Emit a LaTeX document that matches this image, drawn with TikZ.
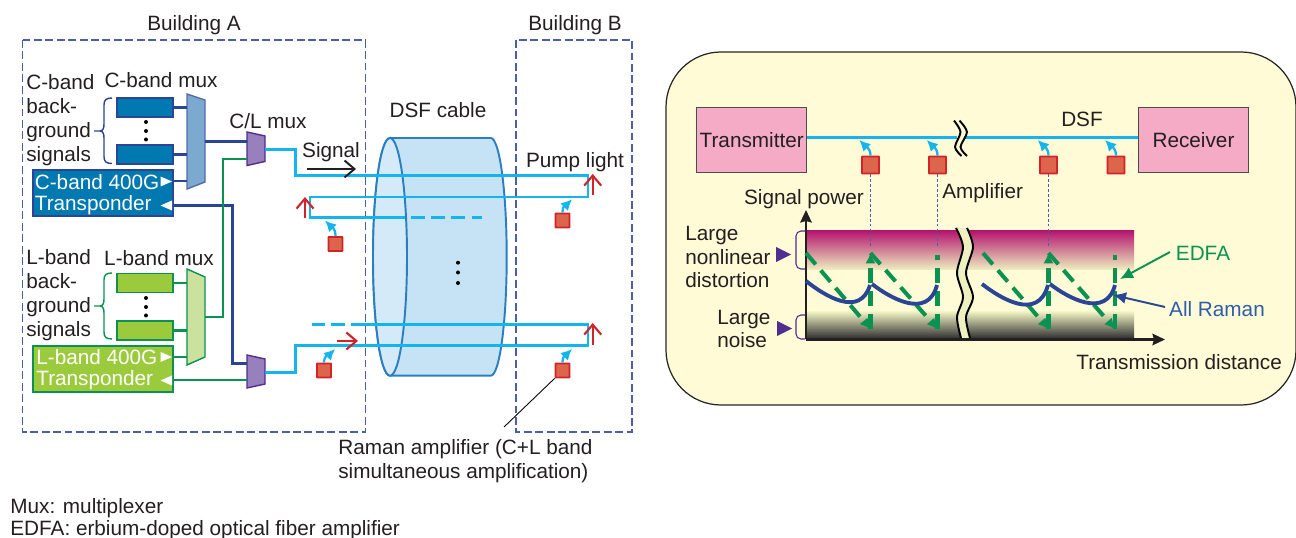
\documentclass[tikz,border=0pt]{standalone}
\usepackage{fontspec}
\setmainfont{Liberation Sans}
\usepackage{xcolor}
\usetikzlibrary{arrows}
\usetikzlibrary{arrows.meta}
\definecolor{inkgray}{HTML}{231F20}
\definecolor{bldblue}{HTML}{4A5FA8}
\definecolor{cband}{HTML}{0078B0}
\definecolor{lband}{HTML}{9BCB3C}
\definecolor{cmuxfill}{HTML}{7BA9CF}
\definecolor{lmuxfill}{HTML}{CBE29F}
\definecolor{clmuxfill}{HTML}{9880BC}
\definecolor{navyline}{HTML}{2B4596}
\definecolor{greenline}{HTML}{0A9350}
\definecolor{fiber}{HTML}{14B4EC}
\definecolor{pumpred}{HTML}{D2232A}
\definecolor{ampfill}{HTML}{DD654C}
\definecolor{panelbg}{HTML}{FFFBD6}
\definecolor{paleband}{HTML}{EEF0C0}
\definecolor{crimson}{HTML}{B5176F}
\definecolor{termpink}{HTML}{F5ABC6}
\definecolor{purplemark}{HTML}{4F2D91}
\definecolor{ramanblue}{HTML}{2F5DAA}
\definecolor{cableedge}{HTML}{2A7FC2}
\definecolor{cablebody}{HTML}{C5E3F5}
\definecolor{cablefront}{HTML}{D5EAF8}

\begin{document}
\begin{tikzpicture}[x=0.2mm,y=-0.2mm]
\tikzset{>={Latex[width=2.4mm,length=2.6mm]}}
\tikzset{every node/.style={font=\fontsize{11.8}{13.6}\selectfont,text=inkgray,inner sep=0pt}}
\tikzstyle{building} =[draw=bldblue,line width=0.6pt,dash pattern=on 4.5pt off 2pt]
\tikzstyle{cbox} =[rectangle,draw=navyline,fill=cband,line width=0.6pt,minimum width=11.2mm,minimum height=3.8mm]
\tikzstyle{lbox} =[rectangle,draw=greenline,fill=lband,line width=0.6pt,minimum width=11.2mm,minimum height=3.8mm]
\tikzstyle{cxpd} =[cbox,minimum width=28mm,minimum height=9.2mm]
\tikzstyle{lxpd} =[lbox,minimum width=28mm,minimum height=9.2mm]
\tikzstyle{xpdtext} =[anchor=west,text=white,align=left,font=\fontsize{11.8}{12}\selectfont]
\tikzstyle{navy} =[draw=navyline,line width=1.2pt]
\tikzstyle{grn} =[draw=greenline,line width=1.2pt]
\tikzstyle{fib} =[draw=fiber,line width=1.4pt]
\tikzstyle{fibdash} =[fib,dash pattern=on 8pt off 3.5pt]
\tikzstyle{pumparrow} =[draw=pumpred,line width=1.2pt,-{Straight Barb[length=2mm,width=3.4mm]}]
\tikzstyle{ampbox} =[rectangle,draw=pumpred,fill=ampfill,line width=1.1pt,rounded corners=0.3pt,minimum size=2.8mm]
\tikzstyle{ampbig} =[ampbox,minimum size=3.4mm]
\tikzstyle{gain} =[draw=fiber,line width=1.3pt,-{Latex[width=2.2mm,length=2.2mm]}]
\tikzstyle{term} =[rectangle,draw=black!70,fill=termpink,line width=0.7pt,minimum width=22mm,minimum height=13mm]
\tikzstyle{cdot} =[circle,fill=black,minimum size=0.8mm]
\tikzstyle{tap} =[draw=bldblue,line width=0.7pt,dash pattern=on 1.6pt off 1.2pt]
\tikzstyle{edfa} =[draw=greenline,line width=2.3pt,dash pattern=on 8.5pt off 4.5pt]
\tikzstyle{edfatip} =[-{Latex[width=2.1mm,length=2.1mm]}]
\tikzstyle{raman} =[draw=navyline,line width=2.2pt]
\tikzstyle{axisline} =[draw=inkgray,line width=1.3pt,-{Stealth[width=2.3mm,length=2.5mm,inset=0.3mm]}]
\tikzstyle{bandmark} =[fill=purplemark]
\tikzstyle{bracket} =[draw=purplemark,line width=0.6pt,rounded corners=1mm]
\tikzstyle{bandbrace} =[line width=0.8pt]

\useasboundingbox (0,0) rectangle (1296,538);

\draw[building] (22.5,40) rectangle (365.5,432);
\draw[building] (516,40) rectangle (632,432);
\node(bldA) at (194,25){Building A};
\node(bldB) at (575,25){Building B};

\filldraw[fill=cmuxfill,draw=navyline!80!white,line width=0.8pt] (187,94) -- (205,100) -- (205,182) -- (187,189) -- cycle;
\filldraw[fill=lmuxfill,draw=greenline,line width=0.8pt] (187,269) -- (205,277) -- (205,357) -- (187,365) -- cycle;
\filldraw[fill=clmuxfill,draw=purplemark,line width=0.8pt] (247,132) -- (265,136) -- (265,161.5) -- (247,165.5) -- cycle;
\filldraw[fill=clmuxfill,draw=purplemark,line width=0.8pt] (247,355) -- (265,359) -- (265,384) -- (247,388) -- cycle;

\node[cbox](cb1) at (145,107.5){};
\node[cbox](cb2) at (145,154.5){};
\node[lbox](lb1) at (145,283){};
\node[lbox](lb2) at (145,330.5){};
\node[cxpd](cxp) at (103,193){};
\node[lxpd](lxp) at (103,369){};
\node[xpdtext](cxt) at (34.5,194.5){C-band 400G\\Transponder};
\node[xpdtext](lxt) at (36,369.5){L-band 400G\\Transponder};

\node[cdot](cd1) at (146,122){};
\node[cdot](cd2) at (146,131){};
\node[cdot](cd3) at (146,139.5){};
\node[cdot](ld1) at (146,298){};
\node[cdot](ld2) at (146,307){};
\node[cdot](ld3) at (146,315.5){};

\coordinate (cmi1) at (187,107.5);
\coordinate (cmi2) at (187,154.5);
\coordinate (cmi3) at (187,181);
\coordinate (cmo) at (205,141.5);
\coordinate (lmi1) at (187,283);
\coordinate (lmi2) at (187,330.5);
\coordinate (lmi3) at (187,357);
\coordinate (lmo) at (205,317);
\coordinate (cla) at (247,141.5);
\coordinate (clb) at (247,159);
\coordinate (clo) at (265,149.5);
\coordinate (cld) at (247,363.5);
\coordinate (cle) at (247,380);
\coordinate (clp) at (265,372.7);
\coordinate (cxr) at (173,205.5);
\coordinate (lxr) at (173,380);
\coordinate (cxs) at (173,181);
\coordinate (lxs) at (173,357);

\draw[navy] (cb1.east) -- (cmi1);
\draw[navy] (cb2.east) -- (cmi2);
\draw[navy] (cxs) -- (cmi3);
\draw[navy] (cmo) -- (cla);
\draw[navy] (cxr) -| (232.5,363.5) -- (cld);
\draw[grn] (lb1.east) -- (lmi1);
\draw[grn] (lb2.east) -- (lmi2);
\draw[grn] (lxs) -- (lmi3);
\draw[grn] (clb) -| (223,317) -- (lmo);
\draw[grn] (lxr) -- (cle);

\fill[white] (160.5,176.5) -- (172,181.5) -- (160.5,186.5) -- cycle;
\fill[white] (172,200.5) -- (160.5,205.5) -- (172,210.5) -- cycle;
\fill[white] (160.5,352) -- (172,357) -- (160.5,362) -- cycle;
\fill[white] (172,375.5) -- (160.5,380.5) -- (172,385.5) -- cycle;

\draw[bandbrace,draw=navyline] (112,98) .. controls (106,98) and (104,100) .. (104,105) -- (104,124) .. controls (104,128) and (103,131) .. (100,131) -- (94,131);
\draw[bandbrace,draw=navyline] (112,163.5) .. controls (106,163.5) and (104,161.5) .. (104,156.5) -- (104,138) .. controls (104,134) and (103,131) .. (100,131);
\draw[bandbrace,draw=greenline] (112,273) .. controls (106,273) and (104,275) .. (104,280) -- (104,299) .. controls (104,303) and (103,306) .. (100,306) -- (94,306);
\draw[bandbrace,draw=greenline] (112,339) .. controls (106,339) and (104,337) .. (104,332) -- (104,313) .. controls (104,309) and (103,306) .. (100,306);

\node[anchor=west,align=left](cbg) at (26,120){C-band\\back-\\ground\\signals};
\node[anchor=west,align=left](lbg) at (26,295){L-band\\back-\\ground\\signals};
\node(cmuxlbl) at (161,80){C-band mux};
\node(lmuxlbl) at (159,258){L-band mux};
\node(clmuxlbl) at (268,121){C/L mux};

\filldraw[fill=cablebody,draw=cableedge,line width=1.1pt] (390,138) -- (490.7,138) arc[start angle=90,end angle=-90,x radius=3.2mm,y radius=23.77mm] -- (390,375.7) arc[start angle=270,end angle=90,x radius=3.4mm,y radius=23.77mm] -- cycle;
\filldraw[fill=cablefront,draw=cableedge,line width=1.1pt] (390,256.85) ellipse [x radius=3.4mm,y radius=23.77mm];
\node(cablelbl) at (438,110){DSF cable};
\node[cdot](kd1) at (458,262.7){};
\node[cdot](kd2) at (458,272.5){};
\node[cdot](kd3) at (458,283){};

\coordinate (fa) at (588,175.7);
\coordinate (fb) at (405,217.7);
\coordinate (fc) at (411,217.7);
\coordinate (fd) at (482,217.7);
\coordinate (fe) at (365,324.4);
\coordinate (ff) at (312,324.4);
\draw[fib] (clo) -| (295.5,175.7) -- (fa) |- (310,197) |- (fb);
\draw[fibdash] (fc) -- (fd);
\draw[fib] (clp) -| (295.5,345.6) -| (588,324.4) -- (fe);
\draw[fibdash] (fe) -- (ff);

\coordinate (ra1) at (305,217.7);
\coordinate (ra2) at (305,197);
\coordinate (rb1) at (592.7,195);
\coordinate (rb2) at (592.7,174);
\coordinate (rc1) at (592.7,345);
\coordinate (rc2) at (592.7,323);
\coordinate (rd1) at (337,341);
\coordinate (rd2) at (358,341);
\draw[pumparrow] (ra1) -- (ra2);
\draw[pumparrow] (rb1) -- (rb2);
\draw[pumparrow] (rc1) -- (rc2);
\draw[pumparrow] (rd1) -- (rd2);

\coordinate (sg1) at (307,169);
\coordinate (sg2) at (356,169);
\draw[inkgray,line width=1.1pt,-{Straight Barb[length=2mm,width=3.4mm]}] (sg1) -- (sg2);
\node(signallbl) at (331,152){Signal};
\node(pumplbl) at (575,162){Pump light};

\node[ampbox](am1) at (335.5,244){};
\node[ampbox](am2) at (562.5,220.5){};
\node[ampbox](am3) at (324,370.5){};
\node[ampbox](am4) at (562.5,370.5){};
\coordinate (gt1) at (325,220.5);
\coordinate (gt2) at (572,199.3);
\coordinate (gt3) at (335,349);
\coordinate (gt4) at (572,349);
\draw[gain] (am1.north) .. controls +(0,-9) and +(5,5) .. (gt1);
\draw[gain] (am2.north) .. controls +(0,-8) and +(-5,5) .. (gt2);
\draw[gain] (am3.north) .. controls +(0,-8) and +(-5,5) .. (gt3);
\draw[gain] (am4.north) .. controls +(0,-8) and +(-5,5) .. (gt4);

\coordinate (ramanlead) at (504,427);
\draw[black,line width=0.5pt] (am4.south west) -- (ramanlead);
\node[anchor=west,align=left](ramanlbl) at (338,461){Raman amplifier (C+L band\\simultaneous amplification)};

\node[anchor=west](muxnote) at (10,508){Mux: multiplexer};
\node[anchor=west](edfanote) at (10,530){EDFA: erbium-doped optical fiber amplifier};

\draw[fill=panelbg,draw=black!85,line width=0.7pt,rounded corners=11mm] (666,52) rectangle (1296,405);

\node[term](tx) at (751.7,140.2){Transmitter};
\node[term](rx) at (1193.5,140.2){Receiver};
\coordinate (brkl) at (957,137.7);
\coordinate (brkr) at (964,137.7);
\draw[fib] (tx.east |- brkl) -- (brkl);
\draw[fib] (brkr) -- (rx.west |- brkr);
\draw[black,line width=1.1pt] plot[smooth] coordinates {(954,120.6) (960.5,132) (955,147) (961.5,156)};
\draw[black,line width=1.1pt] plot[smooth] coordinates {(959.5,120.6) (967,132) (960.5,147) (967,156)};
\node(dsflbl) at (1082,119.5){DSF};

\shade[top color=crimson,bottom color=paleband] (806,231) rectangle (1134,270);
\shade[top color=paleband,bottom color=black!80] (806,312) rectangle (1134,338);

\filldraw[fill=paleband,draw=none] plot[smooth] coordinates {(956,228) (963,247) (957,273) (963,297) (957,317) (961,338)} -- plot[smooth] coordinates {(970,338) (966,317) (973,297) (966,273) (973,247) (967,228)} -- cycle;
\draw[black,line width=1.1pt] plot[smooth] coordinates {(956,228) (963,247) (957,273) (963,297) (957,317) (961,338)};
\draw[black,line width=1.1pt] plot[smooth] coordinates {(967,228) (973,247) (966,273) (973,297) (966,317) (970,338)};

\node[ampbig](ap1) at (870.5,165){};
\node[ampbig](ap2) at (937.5,165){};
\node[ampbig](ap3) at (1048.5,165){};
\node[ampbig](ap4) at (1116,165){};
\coordinate (ga1) at (859.3,140);
\coordinate (ga2) at (926.7,140);
\coordinate (ga3) at (1037.7,140);
\coordinate (ga4) at (1105,140);
\draw[gain] (ap1.north) .. controls +(0,-8) and +(5,5) .. (ga1);
\draw[gain] (ap2.north) .. controls +(0,-8) and +(5,5) .. (ga2);
\draw[gain] (ap3.north) .. controls +(0,-8) and +(5,5) .. (ga3);
\draw[gain] (ap4.north) .. controls +(0,-8) and +(5,5) .. (ga4);

\coordinate (tp1) at (870.5,248);
\coordinate (tp2) at (937.5,248);
\coordinate (tp3) at (1048.5,248);
\draw[tap] (ap1.south) -- (tp1);
\draw[tap] (ap2.south) -- (tp2);
\draw[tap] (ap3.south) -- (tp3);

\coordinate (org) at (806,339.5);
\coordinate (ytip) at (806,210);
\coordinate (xtip) at (1165,339.5);
\draw[axisline] (org) -- (ytip);
\draw[axisline] (org) -- (xtip);

\coordinate (e1) at (806,253);
\coordinate (e2) at (870.5,329);
\coordinate (e3) at (870.5,253);
\coordinate (e4) at (937.5,329);
\coordinate (e5) at (937.5,255);
\coordinate (e6) at (983,253);
\coordinate (e7) at (1048.5,329);
\coordinate (e8) at (1048.5,253);
\coordinate (e9) at (1115,329);
\coordinate (e10) at (1115,255);
\draw[edfa,edfatip] (e1) -- (e2);
\draw[edfa,edfatip] (e2) -- (e3);
\draw[edfa,edfatip] (e3) -- (e4);
\draw[edfa] (e4) -- (e5);
\draw[edfa,edfatip] (e6) -- (e7);
\draw[edfa,edfatip] (e7) -- (e8);
\draw[edfa,edfatip] (e8) -- (e9);
\draw[edfa] (e9) -- (e10);

\draw[raman] (806,281) .. controls (825,296) and (860,318) .. (870,285);
\draw[raman] (872,284) .. controls (890,298) and (928,320) .. (937,285);
\draw[raman] (982,284) .. controls (1000,298) and (1038,322) .. (1048,285);
\draw[raman] (1050,284) .. controls (1068,298) and (1106,319) .. (1115,285);

\fill[bandmark] (776,247) -- (791,254.5) -- (776,262) -- cycle;
\fill[bandmark] (777,321) -- (792,328.5) -- (777,336) -- cycle;
\draw[bracket] (805,231) -- (796,231) -- (796,269) -- (805,269);
\draw[bracket] (805,315) -- (796,315) -- (796,339) -- (805,339);

\node(sigpower) at (804,199){Signal power};
\node[anchor=west](amplbl) at (942,193){Amplifier};
\node[anchor=west,align=left](nllbl) at (685,257){Large\\nonlinear\\distortion};
\node[anchor=west,align=left](noiselbl) at (717,329){Large\\noise};
\node[anchor=west](xlbl) at (1076,362){Transmission distance};

\node[text=greenline](edfalbl) at (1203,253){EDFA};
\node[text=ramanblue](ramanname) at (1217,309){All Raman};
\coordinate (edfaf) at (1170,252);
\coordinate (edfat) at (1120,279);
\coordinate (ramanf) at (1165,307);
\coordinate (ramant) at (1113,295);
\draw[->,greenline,line width=1.1pt] (edfaf) -- (edfat);
\draw[->,navyline,line width=1.1pt] (ramanf) -- (ramant);
\end{tikzpicture}
\end{document}
